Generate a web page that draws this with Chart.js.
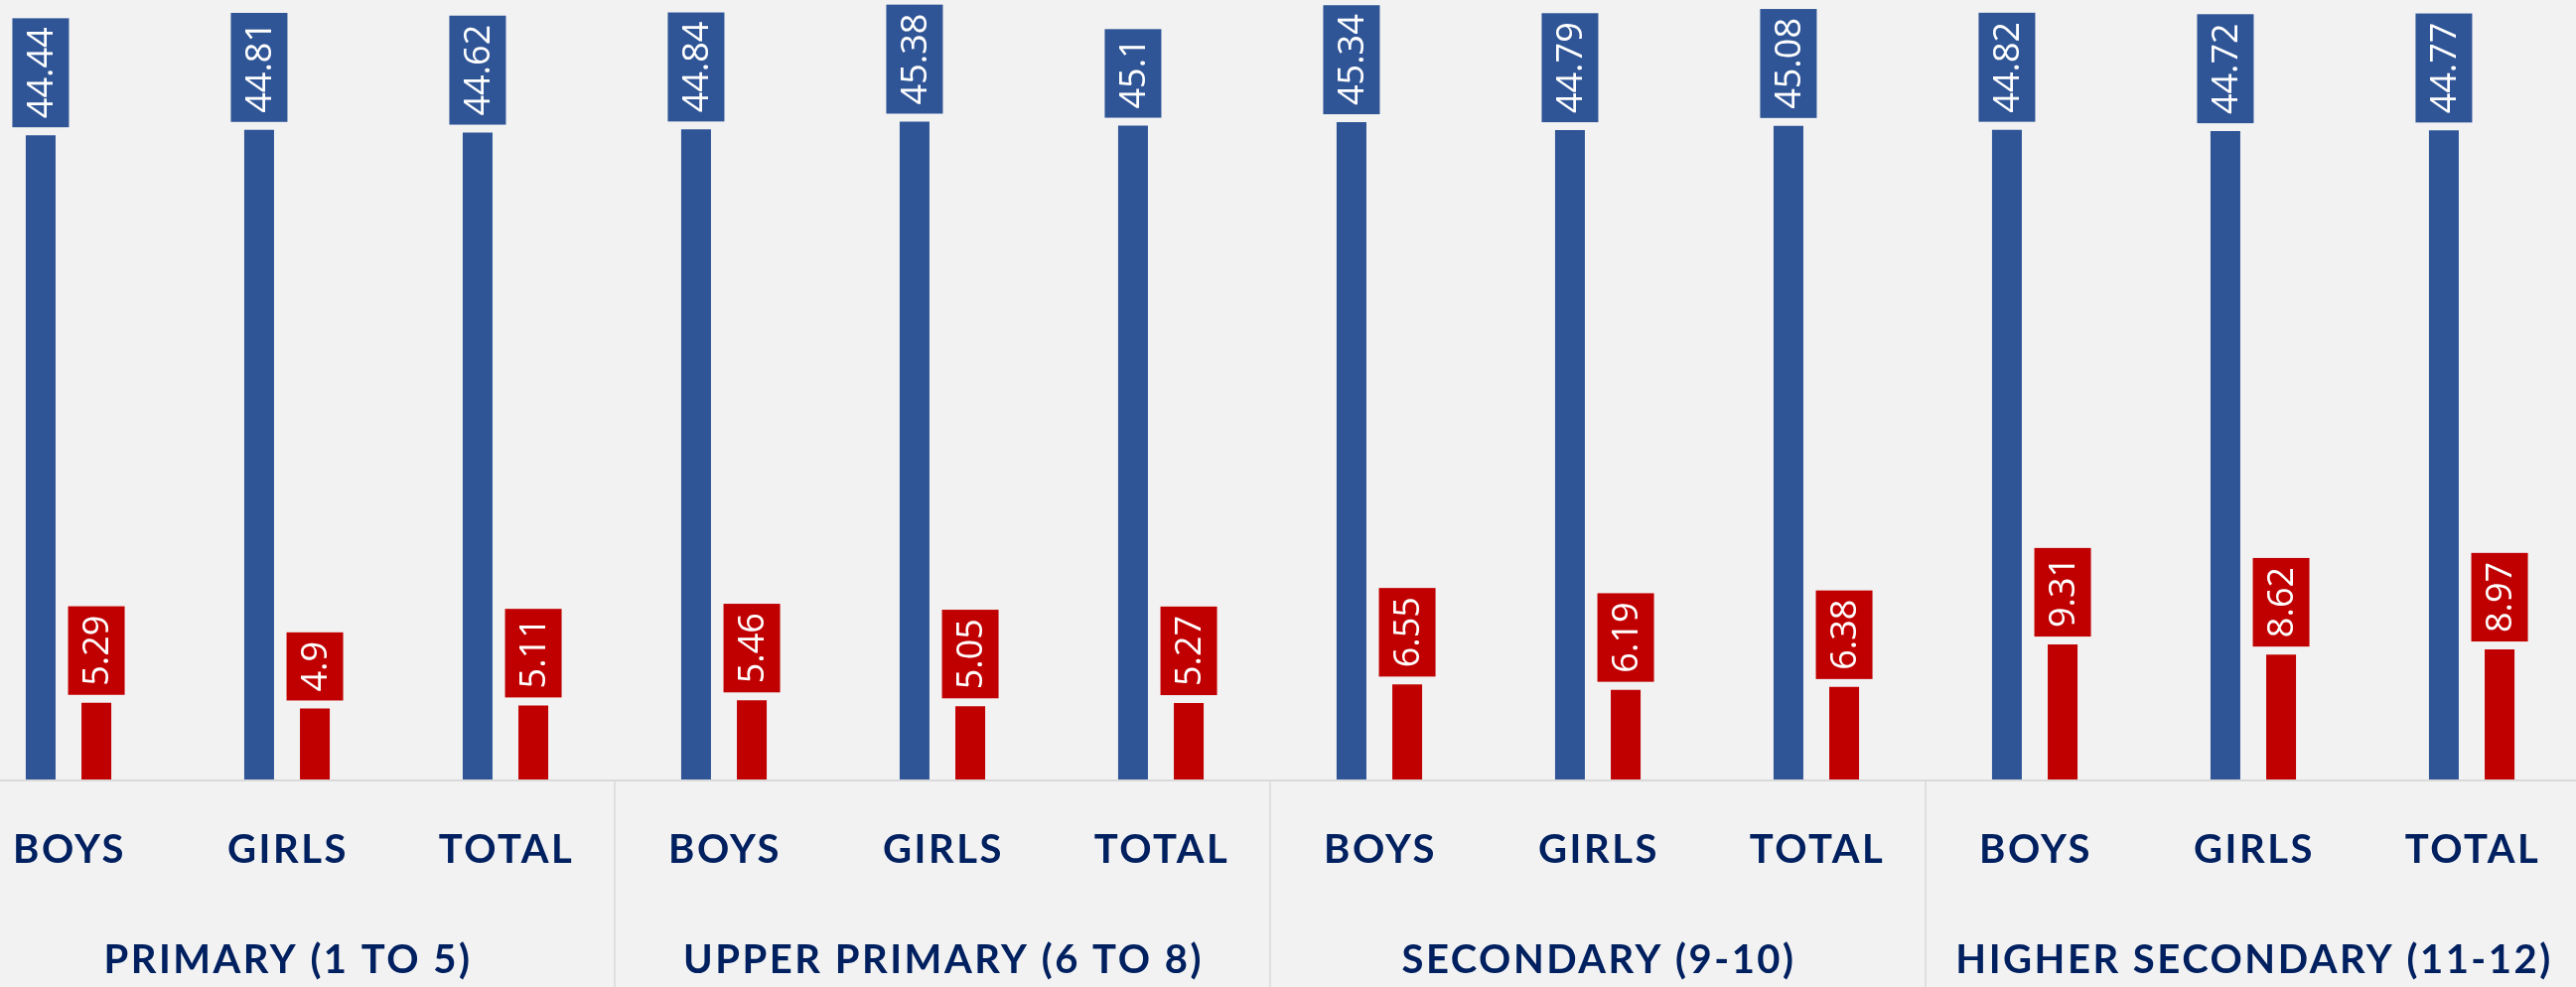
<!DOCTYPE html>
<html>
<head>
<meta charset="utf-8">
<script src="https://cdn.jsdelivr.net/npm/chart.js@4.4.1/dist/chart.umd.min.js"></script>
<style>
    html, body { margin: 0; padding: 0; background: #F2F2F2; overflow: hidden; }
    #wrap { position: absolute; left: -41px; top: 0; width: 2640px; height: 994px; }
</style>
</head>
<body>
<div id="wrap"><canvas id="chart"></canvas></div>
<script>
const categories = [
    "BOYS", "GIRLS", "TOTAL",
    "BOYS", "GIRLS", "TOTAL",
    "BOYS", "GIRLS", "TOTAL",
    "BOYS", "GIRLS", "TOTAL",
];
const groups = [
    "PRIMARY (1 TO 5)",
    "UPPER PRIMARY (6 TO 8)",
    "SECONDARY (9-10)",
    "HIGHER SECONDARY (11-12)",
];
const blueValues = [44.44, 44.81, 44.62, 44.84, 45.38, 45.1, 45.34, 44.79, 45.08, 44.82, 44.72, 44.77];
const redValues = [5.29, 4.9, 5.11, 5.46, 5.05, 5.27, 6.55, 6.19, 6.38, 9.31, 8.62, 8.97];

const colors = {
    blue: "#2F5597",
    red: "#C00000",
    navy: "#002060",
    grid: "#D9D9D9",
};

// value boxes above each bar, text rotated
const valueBoxes = {
    id: "valueBoxes",
    afterDatasetsDraw(chart) {
        const ctx = chart.ctx;
        ctx.save();
        ctx.font = "36px 'Open Sans'";
        chart.data.datasets.forEach((ds, di) => {
            const meta = chart.getDatasetMeta(di);
            meta.data.forEach((bar, i) => {
                const text = String(ds.data[i]);
                const tw = ctx.measureText(text).width;
                const boxH = tw + 18;
                const boxW = 57;
                const bottom = bar.y - 8;
                ctx.fillStyle = ds.backgroundColor;
                ctx.fillRect(bar.x - boxW / 2, bottom - boxH, boxW, boxH);
                ctx.save();
                ctx.translate(bar.x, bottom - boxH / 2);
                ctx.rotate(-Math.PI / 2);
                ctx.fillStyle = "#FFFFFF";
                ctx.textAlign = "center";
                ctx.textBaseline = "middle";
                ctx.fillText(text, 0, 2);
                ctx.restore();
            });
        });
        ctx.restore();
    },
};

// grouped category axis drawn under the plot
const groupedAxis = {
    id: "groupedAxis",
    afterDraw(chart) {
        const ctx = chart.ctx;
        const x = chart.scales.x;
        const area = chart.chartArea;
        const base = chart.scales.y.getPixelForValue(0);
        ctx.save();
        ctx.strokeStyle = colors.grid;
        ctx.lineWidth = 2;
        ctx.beginPath();
        ctx.moveTo(area.left, base + 1);
        ctx.lineTo(area.right, base + 1);
        ctx.stroke();

        ctx.lineWidth = 1.5;
        for (let g = 1; g < groups.length; g += 1) {
            const gx = (x.getPixelForValue(g * 3 - 1) + x.getPixelForValue(g * 3)) / 2;
            ctx.beginPath();
            ctx.moveTo(gx, base + 1);
            ctx.lineTo(gx, chart.height);
            ctx.stroke();
        }

        ctx.fillStyle = colors.navy;
        ctx.textAlign = "center";
        ctx.textBaseline = "middle";
        ctx.font = "bold 40px Lato";
        ctx.letterSpacing = "2.5px";
        categories.forEach((c, i) => {
            ctx.fillText(c, x.getPixelForValue(i) + 1, 856);
        });
        groups.forEach((g, gi) => {
            ctx.fillText(g, x.getPixelForValue(gi * 3 + 1) + 1, 967);
        });
        ctx.restore();
    },
};

new Chart(document.getElementById("chart"), {
    type: "bar",
    data: {
        labels: categories,
        datasets: [
            {
                label: "Series 1",
                data: blueValues,
                backgroundColor: colors.blue,
                categoryPercentage: 0.51,
                barPercentage: 0.535,
            },
            {
                label: "Series 2",
                data: redValues,
                backgroundColor: colors.red,
                categoryPercentage: 0.51,
                barPercentage: 0.535,
            },
        ],
    },
    options: {
        responsive: true,
        maintainAspectRatio: false,
        animation: false,
        devicePixelRatio: 1,
        layout: { padding: { top: 55, bottom: 209, left: 0, right: 0 } },
        plugins: {
            legend: { display: false },
            tooltip: { enabled: false },
        },
        scales: {
            x: { display: false },
            y: { display: false, min: 0, max: 50 },
        },
    },
    plugins: [valueBoxes, groupedAxis],
});
</script>
</body>
</html>
